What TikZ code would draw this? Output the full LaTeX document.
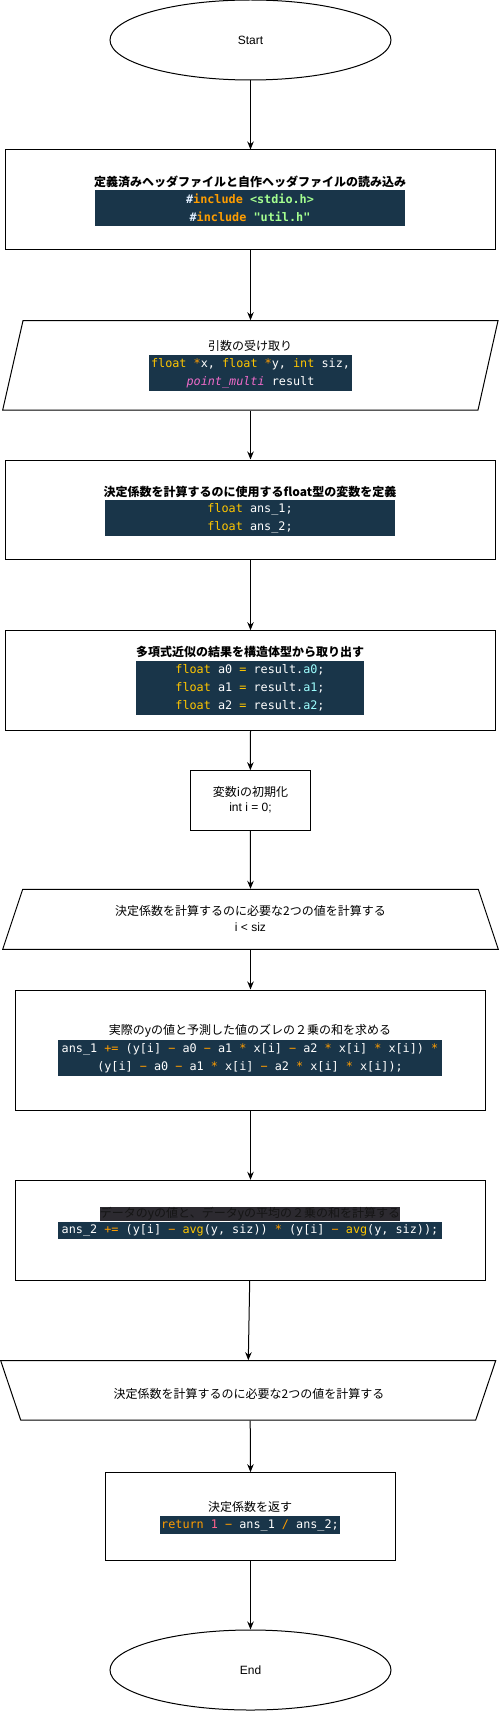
\documentclass[tikz,border=0pt]{standalone}
\usepackage{fontspec}
\setmainfont{Liberation Sans}
\newfontfamily\jp{Noto Sans CJK JP}
\newfontfamily\codefont{DejaVu Sans Mono}
\usetikzlibrary{arrows.meta,shapes.geometric}
\definecolor{codebg}{HTML}{193549}
\definecolor{cOr}{HTML}{FF9D00}
\definecolor{cYl}{HTML}{FFC600}
\definecolor{cGn}{HTML}{A5FF90}
\definecolor{cPk}{HTML}{EE6BC9}
\definecolor{cPn}{HTML}{FF628C}
\definecolor{cCy}{HTML}{9EFFFF}
\definecolor{cHs}{HTML}{E1EFFF}
\definecolor{darkbg}{HTML}{2C2A30}
\definecolor{darktx}{HTML}{151515}
\newcommand\cdOr[1]{\textcolor{cOr}{#1}}
\newcommand\cdYl[1]{\textcolor{cYl}{#1}}
\newcommand\cdGn[1]{\textcolor{cGn}{#1}}
\newcommand\cdPk[1]{\textcolor{cPk}{#1}}
\newcommand\cdPn[1]{\textcolor{cPn}{#1}}
\newcommand\cdCy[1]{\textcolor{cCy}{#1}}
\newcommand\cdHs[1]{\textcolor{cHs}{#1}}
\newcommand\cdMi{\cdOr{−}}
\begin{document}
\begin{tikzpicture}[x=1pt,y=-1pt,line width=1pt,
  arr/.style={-{Stealth[length=8pt,width=6.5pt]}},
  box/.style={draw,rectangle,inner sep=0pt},
  ghost/.style={rectangle,inner sep=0pt},
  oval/.style={draw,ellipse,inner sep=0pt,minimum width=281pt,minimum height=80pt,font=\fontsize{12}{14}\selectfont},
  ttl/.style={inner sep=0pt,font=\jp\fontsize{12}{14}\selectfont},
  ttlb/.style={inner sep=0pt,font=\jp\bfseries\fontsize{12}{14}\selectfont},
  code/.style={fill=codebg,inner sep=0pt,align=center,text=white,font=\codefont\fontsize{11.8}{18}\selectfont},
  lbl/.style={inner sep=0pt,align=center,font=\jp\fontsize{12}{15.2}\selectfont}]
\useasboundingbox (0,0) rectangle (499,1712);

% Start
\node[oval] (start) at (250.5,40) {Start};

% box 1
\node[box,minimum width=490.4pt,minimum height=100pt] (b1) at (250.5,200) {};
\node[ttlb] (h1) at (250,182) {定義済みヘッダファイルと自作ヘッダファイルの読み込み};
\node[code,minimum width=310pt,minimum height=36pt,font=\codefont\bfseries\fontsize{11.8}{18}\selectfont] (c1) at (250,208)
  {\cdHs{\#}\cdOr{include} \cdGn{<stdio.h>}\\\cdHs{\#}\cdOr{include} \cdGn{"util.h"}};

% parallelogram 2
\draw (23,320.7) -- (498,320.7) -- (478,410) -- (2.7,410) -- cycle;
\node[ghost,minimum width=475pt,minimum height=89.3pt] (p2) at (250.5,365.35) {};
\node[ttl] (h2) at (250,345.7) {引数の受け取り};
\node[code,minimum width=203pt,minimum height=35.7pt] (c2) at (250.5,373)
  {\cdYl{float} \cdOr{*}x, \cdYl{float} \cdOr{*}y, \cdYl{int} siz,\\{\itshape\cdPk{point\_multi}} result};

% box 3
\node[box,minimum width=490.4pt,minimum height=99pt] (b3) at (250.5,509.5) {};
\node[ttlb] (h3) at (250,491.7) {決定係数を計算するのに使用するfloat型の変数を定義};
\node[code,minimum width=290pt,minimum height=35.7pt] (c3) at (250,518)
  {\cdYl{float} ans\_1;\\\cdYl{float} ans\_2;};

% box 4
\node[box,minimum width=490.4pt,minimum height=99.6pt] (b4) at (250.5,680.5) {};
\node[ttlb] (h4) at (250,652.3) {多項式近似の結果を構造体型から取り出す};
\node[code,minimum width=228pt,minimum height=54pt] (c4) at (250,688)
  {\cdYl{float} a0 \cdYl{=} result.\cdCy{a0};\\\cdYl{float} a1 \cdYl{=} result.\cdCy{a1};\\\cdYl{float} a2 \cdYl{=} result.\cdCy{a2};};

% box 5
\node[box,minimum width=120.7pt,minimum height=59.6pt] (b5) at (250.35,800.5) {};
\node[lbl] (h5) at (250.5,800) {変数iの初期化\\{\rmfamily int i = 0;}};

% loop start trapezoid
\draw (22.7,889.3) -- (478.3,889.3) -- (498.3,949.3) -- (2.7,949.3) -- cycle;
\node[ghost,minimum width=495pt,minimum height=60pt] (t6) at (250.5,919.3) {};
\node[lbl] (h6) at (250.5,918.5) {決定係数を計算するのに必要な2つの値を計算する\\{\rmfamily i < siz}};

% box 6
\node[box,minimum width=470.4pt,minimum height=120.3pt] (b6) at (250.5,1050.15) {};
\node[ttl] (h6b) at (250,1031) {実際のyの値と予測した値のズレの２乗の和を求める};
\node[code,minimum width=384pt,minimum height=36pt] (c6) at (250,1058)
  {ans\_1 \cdOr{+=} (y[i] \cdMi{} a0 \cdMi{} a1 \cdOr{*} x[i] \cdMi{} a2 \cdOr{*} x[i] \cdOr{*} x[i]) \cdOr{*}\\(y[i] \cdMi{} a0 \cdMi{} a1 \cdOr{*} x[i] \cdMi{} a2 \cdOr{*} x[i] \cdOr{*} x[i]);};

% box 7
\node[box,minimum width=470.4pt,minimum height=100pt] (b7) at (250.5,1230.3) {};
\node[ttl,fill=darkbg,text=darktx,minimum width=300pt,minimum height=13.7pt] (h7) at (250,1214) {データのyの値と、データyの平均の２乗の和を計算する};
\node[code,minimum width=384pt,minimum height=17pt] (c7) at (250,1230.8)
  {ans\_2 \cdOr{+=} (y[i] \cdMi{} \cdYl{avg}(y, siz)) \cdOr{*} (y[i] \cdMi{} \cdYl{avg}(y, siz));};

% loop end trapezoid
\draw (0.7,1360.7) -- (495.7,1360.7) -- (475.7,1420) -- (20.7,1420) -- cycle;
\node[ghost,minimum width=495pt,minimum height=59.3pt] (t8) at (250.2,1390.35) {};
\node[ttl] (h8) at (249,1394) {決定係数を計算するのに必要な2つの値を計算する};

% box 8
\node[box,minimum width=290.4pt,minimum height=87.6pt] (b8) at (250.5,1516.5) {};
\node[ttl] (h9) at (250,1506.7) {決定係数を返す};
\node[code,minimum width=180pt,minimum height=17.7pt] (c8) at (250,1525)
  {\cdOr{return} \cdPn{1} \cdMi{} ans\_1 \cdOr{/} ans\_2;};

% End
\node[oval] (end) at (250.5,1670) {End};

% connectors
\draw[arr] (start.south) -- (b1.north);
\draw[arr] (b1.south) -- (p2.north);
\draw[arr] (p2.south) -- (b3.north);
\draw[arr] (b3.south) -- (b4.north);
\draw[arr] (b4.south) -- (b5.north);
\draw[arr] (b5.south) -- (t6.north);
\draw[arr] (t6.south) -- (b6.north);
\draw[arr] (b6.south) -- (b7.north);
\draw[arr] ([xshift=-0.8pt]b7.south) -- ([xshift=-1.9pt]t8.north);
\draw[arr] (t8.south) -- (b8.north);
\draw[arr] (b8.south) -- (end.north);
\end{tikzpicture}
\end{document}
